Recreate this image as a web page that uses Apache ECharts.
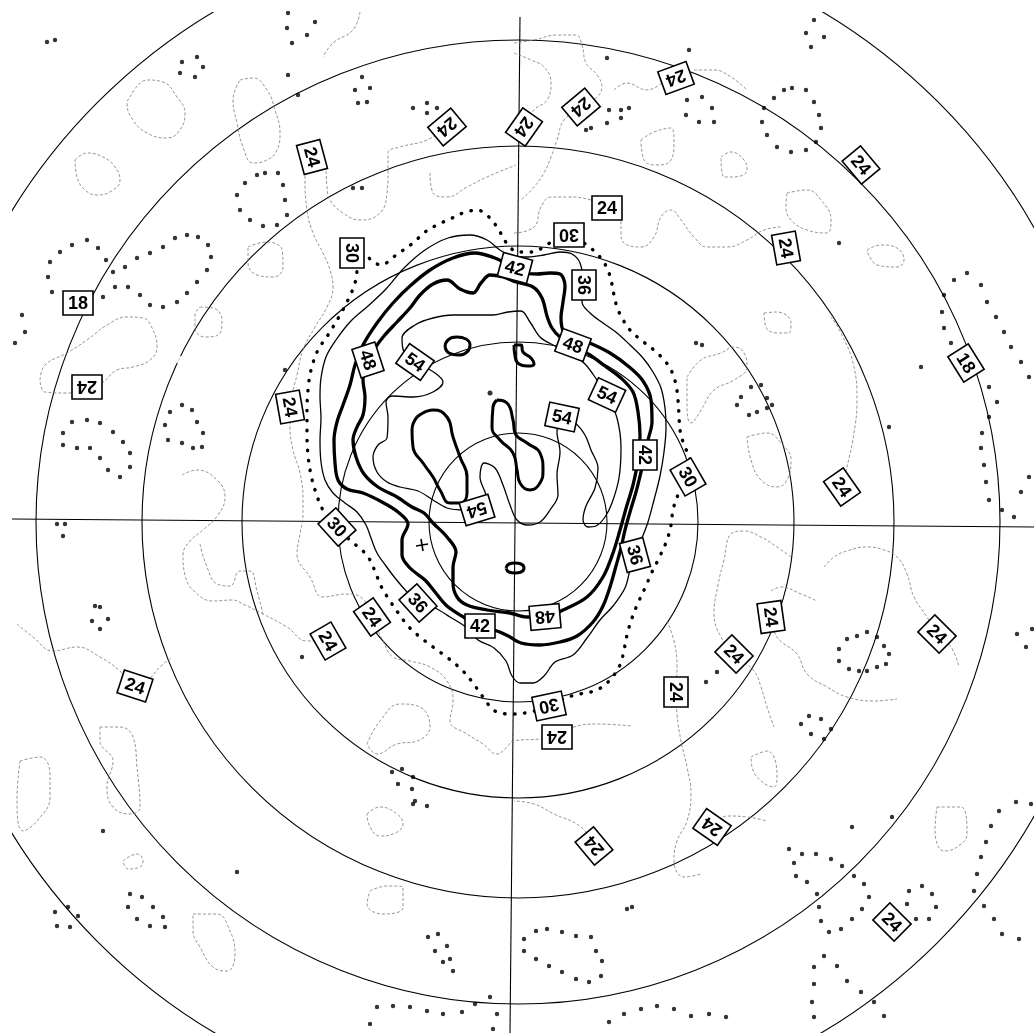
<!DOCTYPE html>
<html>
<head>
<meta charset="utf-8">
<script src="https://cdn.jsdelivr.net/npm/echarts@6/dist/echarts.min.js"></script>
<style>
html,body{margin:0;padding:0;background:#fff}
#chart{width:1034px;height:1033px}
</style>
</head>
<body>
<div id="chart"></div>
<script>
// Sheet grid units: x to the right, y downward, pole near the middle.
const sheetExtent = {xMin: 12, xMax: 1034, yMin: 12, yMax: 1033};
const pole = [518, 522];
const ringRadii = [89, 180, 276, 376, 482, 594];
const meridianLines = [
  [[12, 519], [1034, 527]],
  [[520, 17], [510, 1033]]
];

// Contour polylines (grid units), one array per level.
const contour30 = [[352,253],[362,252],[373,262],[382,265],[392,258],[402,251],[413,243],[425,232],[437,225],[450,219],[463,213],[477,210],[490,218],[500,232],[508,245],[518,252],[533,252],[548,244],[569,235],[588,246],[600,257],[607,268],[611,280],[614,295],[617,307],[622,318],[630,330],[641,340],[654,350],[665,361],[672,372],[676,385],[678,400],[679,415],[680,430],[684,445],[690,460],[688,477],[678,495],[673,510],[671,525],[667,540],[660,556],[652,572],[645,588],[638,603],[632,618],[627,635],[624,650],[620,665],[610,680],[597,690],[580,694],[565,698],[549,706],[530,712],[513,714],[495,711],[483,697],[473,683],[462,670],[448,658],[433,647],[420,637],[408,626],[399,614],[390,601],[382,588],[376,574],[370,560],[362,550],[352,542],[337,527],[323,510],[316,493],[311,475],[308,455],[307,433],[307,410],[308,390],[311,370],[318,350],[328,335],[340,315],[348,300],[355,283],[357,268],[352,253]];

const contour36 = [[584,285],[582,302],[590,313],[603,323],[617,333],[630,345],[643,358],[653,372],[661,388],[665,408],[666,428],[664,452],[660,476],[654,500],[648,522],[642,538],[635,555],[630,570],[625,588],[613,606],[600,620],[587,638],[573,655],[555,662],[544,676],[533,683],[520,683],[512,676],[506,661],[494,648],[478,640],[467,628],[450,617],[435,608],[418,603],[407,592],[395,578],[386,566],[377,553],[371,538],[366,525],[357,512],[345,503],[333,493],[325,480],[321,462],[320,440],[321,418],[320,397],[321,378],[326,357],[336,340],[350,322],[368,306],[386,289],[404,268],[425,250],[448,238],[470,235],[487,240],[500,250],[512,256],[528,257],[544,255],[560,252],[572,254],[580,263],[584,285]];

const contour42 = [[515,268],[523,273],[537,274],[550,273],[560,274],[565,286],[563,302],[561,318],[564,332],[576,338],[592,344],[610,353],[628,366],[643,381],[651,400],[652,422],[648,440],[645,455],[641,472],[636,492],[630,512],[625,530],[621,548],[616,566],[610,587],[603,606],[593,622],[577,636],[560,642],[540,645],[521,643],[510,637],[497,631],[480,627],[465,618],[447,606],[435,592],[425,580],[410,568],[402,555],[402,540],[408,524],[398,512],[382,502],[363,493],[347,489],[338,480],[335,463],[334,440],[337,422],[343,405],[350,385],[355,365],[363,345],[377,323],[393,303],[410,286],[430,270],[453,258],[475,253],[495,258],[507,264],[515,268]];

const contour48 = [[368,360],[375,348],[384,336],[397,322],[410,308],[420,295],[433,284],[447,280],[460,289],[473,293],[481,283],[490,275],[503,277],[516,282],[533,287],[542,298],[547,316],[552,328],[560,337],[573,345],[590,355],[605,366],[621,378],[633,392],[638,412],[640,435],[638,460],[633,485],[627,505],[620,530],[613,553],[603,577],[587,597],[563,610],[545,617],[527,617],[510,613],[487,610],[467,605],[457,597],[453,583],[453,567],[456,552],[447,537],[433,523],[424,513],[412,507],[397,497],[378,487],[364,474],[356,457],[353,440],[357,427],[363,415],[365,397],[363,380],[368,360]];

const contour54 = [[415,362],[404,352],[402,338],[415,325],[433,318],[453,315],[473,315],[493,315],[508,312],[521,311],[530,322],[540,337],[553,345],[570,352],[585,364],[597,380],[607,395],[617,418],[621,448],[619,478],[612,503],[605,517],[596,526],[588,527],[583,520],[586,506],[595,488],[598,468],[591,450],[585,435],[575,423],[562,417],[557,432],[560,452],[557,475],[558,495],[550,510],[540,522],[528,525],[517,520],[510,505],[503,485],[495,468],[484,463],[480,477],[486,495],[487,507],[477,511],[461,510],[447,508],[433,500],[418,491],[400,487],[387,482],[377,472],[373,457],[378,445],[387,438],[388,417],[386,402],[392,396],[413,397],[433,392],[443,382],[435,373],[415,362]];

const contour60 = [
  [[445,347],[448,340],[457,337],[466,339],[470,345],[467,352],[458,355],[449,353],[445,347]],
  [[514,345],[515,356],[519,364],[527,366],[534,364],[531,358],[523,352],[521,345],[514,345]],
  [[417,417],[433,410],[447,417],[453,437],[460,457],[467,477],[467,493],[460,503],[450,503],[440,490],[433,477],[423,463],[413,447],[412,430],[417,417]],
  [[497,400],[507,403],[513,420],[515,433],[527,443],[540,453],[543,470],[540,483],[530,490],[520,483],[517,470],[513,453],[500,440],[492,427],[493,407],[497,400]],
  [[506,568],[509,564],[515,563],[521,564],[524,568],[521,572],[515,573],[509,572],[506,568]]
];

const contour24 = [
  [[130,97],[147,80],[163,82],[177,97],[185,113],[180,130],[167,138],[147,133],[133,120],[127,103],[130,97]],
  [[75,160],[87,153],[103,157],[115,167],[120,180],[113,190],[97,195],[85,190],[77,177],[75,160]],
  [[240,80],[253,78],[267,90],[275,110],[280,133],[277,150],[267,160],[253,163],[243,147],[237,123],[233,100],[240,80]],
  [[360,12],[353,30],[333,43],[323,57]],
  [[312,157],[305,177],[307,210],[313,233],[323,253],[330,270],[333,287],[327,307],[315,327],[303,350],[297,375],[292,395],[290,407],[290,427],[293,450],[300,473],[303,500],[303,514],[300,534],[297,554],[310,577],[323,597],[347,594],[363,599],[372,617],[383,641],[393,657],[410,661],[430,667],[447,681],[453,701],[450,721],[467,734],[483,744],[497,754],[507,747],[513,741],[541,739],[557,737],[574,727],[597,724],[631,726]],
  [[312,157],[325,160],[327,187],[330,200],[343,213],[360,220],[380,213],[387,193],[388,173],[388,153],[400,147],[427,140],[447,127]],
  [[430,173],[433,193],[447,197],[467,187],[487,177],[516,165]],
  [[248,247],[267,242],[282,250],[283,267],[273,277],[257,275],[248,263],[248,247]],
  [[200,307],[213,308],[222,320],[220,333],[205,337],[195,328],[195,315],[200,307]],
  [[40,380],[45,365],[67,353],[87,340],[107,325],[127,317],[143,318],[153,330],[157,347],[150,360],[133,367],[117,370],[103,382],[87,390],[65,393],[45,392],[40,380]],
  [[182,475],[197,470],[217,480],[225,497],[218,515],[203,530],[190,541],[183,555],[185,575],[195,592],[213,601],[232,600],[245,605],[263,614],[287,627],[307,641],[328,641],[345,648]],
  [[200,544],[207,567],[217,584],[230,586],[240,571],[250,571],[257,591],[263,614]],
  [[17,624],[33,637],[53,651],[77,647],[100,657],[120,671],[135,686],[147,681],[160,667],[172,657]],
  [[100,727],[120,727],[133,737],[137,767],[140,807],[130,814],[113,807],[107,787],[113,761],[100,741],[100,727]],
  [[20,761],[40,757],[50,774],[50,797],[37,821],[23,831],[17,800],[20,761]],
  [[367,744],[380,721],[400,704],[420,707],[430,727],[417,741],[397,744],[377,754],[367,744]],
  [[367,814],[380,807],[397,814],[403,824],[393,834],[380,836],[370,827],[367,814]],
  [[123,861],[137,854],[143,861],[140,867],[128,869],[123,861]],
  [[193,914],[217,914],[230,931],[235,954],[227,971],[213,967],[200,947],[193,931],[193,914]],
  [[370,891],[387,886],[403,887],[403,907],[383,914],[367,904],[370,891]],
  [[667,621],[674,641],[677,667],[676,692],[677,714],[681,741],[687,767],[691,794],[687,821],[677,841],[674,861],[684,877],[701,874]],
  [[791,557],[777,547],[761,537],[744,531],[731,534],[724,560],[718,585],[714,614],[721,637],[734,654],[754,671],[761,687],[767,707],[774,727]],
  [[771,591],[781,587],[801,594],[817,601]],
  [[771,617],[777,637],[797,654],[807,674],[827,687],[847,697],[874,701],[897,699]],
  [[824,567],[834,557],[847,551],[867,547],[881,549],[897,557],[907,574],[914,597],[927,617],[937,634],[951,647],[959,667]],
  [[751,757],[767,751],[777,774],[774,787],[761,781],[752,767],[751,757]],
  [[937,807],[961,807],[967,834],[957,847],[944,851],[935,830],[937,807]],
  [[712,827],[727,816],[747,817],[767,821]],
  [[594,846],[581,827],[554,814],[534,804],[514,801]],
  [[514,43],[534,40],[557,35],[576,35],[582,45],[586,63],[597,75],[602,87],[594,100],[581,107]],
  [[514,53],[531,60],[544,67],[551,83],[547,100],[534,110],[524,127]],
  [[581,107],[564,120],[557,140],[551,157],[544,173],[534,187],[521,200]],
  [[641,140],[654,132],[671,128],[674,143],[671,160],[657,165],[644,160],[641,140]],
  [[721,157],[731,152],[744,160],[747,170],[734,177],[724,177],[721,157]],
  [[614,90],[627,83],[647,90],[662,83]],
  [[694,70],[714,70],[731,77],[747,90]],
  [[787,193],[807,190],[821,200],[831,220],[827,233],[807,230],[791,220],[786,207],[787,193]],
  [[867,250],[881,245],[897,248],[904,260],[897,267],[877,265],[867,250]],
  [[764,313],[777,312],[791,323],[789,333],[777,333],[766,327],[764,313]],
  [[514,233],[534,227],[541,207],[551,197],[567,197],[591,200],[607,208],[621,213],[621,233],[624,243],[641,247],[654,237],[661,217],[671,210],[681,220],[694,237],[707,247],[727,247],[747,240],[764,230],[781,227]],
  [[687,377],[701,360],[721,353],[734,347],[744,353],[747,367],[734,380],[714,390],[701,410],[691,423],[687,407],[687,377]],
  [[747,437],[767,433],[781,443],[791,460],[787,480],[777,487],[761,480],[751,460],[747,437]],
  [[842,487],[847,467],[854,433],[857,400],[854,367],[841,333],[831,317]]
];

// Dotted 18-level rings, one dot per sounding.
const dots18 = [
  [47,42],[55,40],[182,62],[197,57],[203,67],[195,77],[180,73],[288,13],[315,22],[287,28],[307,35],[292,43],[288,75],[298,95],
  [362,77],[355,90],[370,88],[358,103],[367,102],[413,108],[427,103],[437,108],[427,113],
  [257,175],[265,173],[278,173],[283,185],[285,200],[287,215],[277,225],[263,226],[250,220],[240,210],[237,195],[245,183],[353,188],[362,188],
  [48,277],[50,262],[60,252],[72,245],[87,240],[98,248],[106,260],[113,272],[125,267],[137,258],[150,253],[163,247],[175,238],[187,235],[198,237],[208,245],[211,257],[207,270],[197,282],[187,293],[177,302],[163,307],[150,305],[140,295],[128,287],[115,287],[103,297],[52,292],
  [22,315],[25,332],[15,343],
  [170,412],[182,405],[192,410],[197,422],[203,433],[202,447],[193,448],[182,443],[168,440],[165,425],
  [72,422],[87,420],[100,423],[113,432],[123,442],[130,453],[130,467],[120,477],[108,470],[100,458],[90,448],[77,448],[63,445],[63,433],[285,370],
  [814,20],[806,33],[824,37],[811,47],[689,50],[607,58],[629,108],[621,110],[609,110],[607,123],[621,118],[586,130],[591,128],
  [687,100],[702,97],[712,108],[714,122],[699,122],[686,115],
  [764,108],[774,98],[784,90],[792,88],[806,90],[814,102],[819,115],[821,128],[816,142],[806,150],[791,152],[777,147],[767,135],[762,122],
  [696,343],[702,345],[839,243],
  [741,397],[751,387],[761,385],[767,398],[772,405],[767,408],[757,412],[749,415],[737,405],
  [954,280],[967,273],[981,285],[987,302],[996,317],[1004,332],[1011,347],[1021,362],[1029,377],[944,295],[942,312],[944,328],[951,343],
  [989,387],[997,402],[989,417],[982,433],[981,448],[984,465],[986,482],[989,500],[1002,510],[1014,517],[1029,477],[1021,492],[889,427],[921,367],
  [57,524],[65,524],[63,536],[95,606],[100,607],[92,621],[108,619],[100,629],[302,657],
  [392,772],[402,769],[413,777],[398,784],[412,789],[415,801],[427,806],[413,804],[103,831],[237,872],
  [130,894],[142,897],[128,907],[153,907],[137,919],[163,917],[150,926],[165,927],
  [55,912],[68,907],[78,916],[57,926],[70,927],
  [428,937],[438,934],[435,951],[447,946],[443,962],[450,959],[453,971],
  [377,1007],[393,1006],[410,1007],[427,1011],[443,1014],[462,1012],[475,1004],[490,997],[497,1014],[493,1029],[370,1024],
  [706,682],[717,672],[809,716],[821,719],[801,724],[811,734],[824,739],[831,729],
  [839,649],[847,639],[857,636],[867,632],[877,637],[884,646],[889,654],[886,664],[877,667],[867,671],[859,671],[849,669],[839,661],
  [1017,634],[1032,629],[1026,647],[852,827],[892,817],[632,907],[627,909],
  [789,849],[802,854],[816,854],[831,859],[842,866],[854,876],[864,884],[869,897],[862,909],[852,919],[841,929],[829,932],[821,921],[819,907],[817,894],[807,882],[796,876],[794,863],
  [909,891],[922,886],[932,894],[936,907],[929,919],[916,919],[907,904],
  [1016,802],[999,811],[991,826],[986,842],[981,857],[977,874],[974,891],[984,906],[994,919],[1002,934],[1019,939],[1031,804],
  [824,956],[837,966],[847,981],[861,992],[874,1002],[884,1016],[814,967],[814,984],[812,1002],[814,1017],
  [524,939],[536,931],[547,929],[562,932],[576,936],[591,937],[596,951],[602,961],[601,976],[589,982],[576,979],[562,972],[549,966],[536,959],[524,951],
  [609,1022],[624,1014],[641,1009],[657,1006],[674,1009],[691,1016],[709,1014],[726,1017]
];

const stationDots = [[490,393]];
const smallRings = [[180,360],[462,77],[587,27],[200,667],[260,679],[332,701],[834,611],[591,764]];
const crossMarks = [[422,545]];

// Contour label anchors: [x, y, level]
const labelPoints = [
  [447,127,24],[524,127,24],[581,107,24],[676,78,24],[861,165,24],[607,208,24],[569,235,30],[786,248,24],
  [966,363,18],[842,487,24],[688,477,30],[645,455,42],[584,285,36],[573,345,48],[607,395,54],[562,417,54],
  [515,268,42],[352,253,30],[312,157,24],[78,303,18],[87,387,24],[368,360,48],[415,362,54],[290,407,24],
  [477,510,54],[337,527,30],[418,603,36],[372,617,24],[328,641,24],[480,626,42],[545,617,48],[635,555,36],
  [135,686,24],[549,706,30],[557,737,24],[676,692,24],[734,654,24],[771,617,24],[937,634,24],[712,827,24],
  [594,846,24],[892,922,24]
];
// Clockwise tilt of each label box, degrees, same order.
const labelTilt = [
  140,125,140,160,50,0,180,80,
  58,55,60,90,90,20,25,12,
  15,90,75,0,180,72,35,80,
  163,48,48,55,60,0,175,75,
  18,168,180,90,45,82,45,215,
  230,45
];

const levelStyle = {
  30: {color:'#000', width:3.4, type:[0.5, 9.5], cap:'round'},
  36: {color:'#000', width:1.3, type:'solid'},
  42: {color:'#000', width:3.3, type:'solid'},
  48: {color:'#000', width:3.3, type:'solid'},
  54: {color:'#000', width:1.3, type:'solid'},
  60: {color:'#000', width:3.0, type:'solid'},
  24: {color:'#7a7a7a', width:0.8, type:[3, 2]}
};

function contourSeries(points, level, smooth) {
  const st = levelStyle[level];
  return {
    type: 'line',
    data: points,
    showSymbol: false,
    symbol: 'none',
    smooth: smooth,
    silent: true,
    z: level === 24 ? 2 : 4,
    lineStyle: {color: st.color, width: st.width, type: st.type, cap: st.cap || 'butt', join: 'round'}
  };
}

const series = [];

// latitude rings, trimmed to the sheet
series.push({
  type: 'custom',
  data: ringRadii.map(r => [pole[0], pole[1], r]),
  silent: true,
  clip: true,
  z: 1,
  renderItem: function (params, api) {
    const c = api.coord([api.value(0), api.value(1)]);
    const r = api.size([api.value(2), 0])[0];
    return {type: 'circle', shape: {cx: c[0], cy: c[1], r: r}, style: {fill: 'none', stroke: '#000', lineWidth: 1.1}};
  }
});

// meridians
meridianLines.forEach(seg => {
  series.push({type: 'line', data: seg, showSymbol: false, symbol: 'none', silent: true, z: 1,
    lineStyle: {color: '#000', width: 1.1}});
});

contour24.forEach(p => series.push(contourSeries(p, 24, 0.45)));
series.push(contourSeries(contour30, 30, 0.35));
series.push(contourSeries(contour36, 36, 0.35));
series.push(contourSeries(contour42, 42, 0.35));
series.push(contourSeries(contour48, 48, 0.35));
series.push(contourSeries(contour54, 54, 0.35));
contour60.forEach(p => series.push(contourSeries(p, 60, 0.5)));

series.push({
  type: 'scatter', data: dots18, symbol: 'circle', symbolSize: 4.4, silent: true, z: 3,
  itemStyle: {color: '#000'}
});
series.push({
  type: 'scatter', data: stationDots, symbol: 'circle', symbolSize: 5, silent: true, z: 3,
  itemStyle: {color: '#000'}
});
series.push({
  type: 'scatter', data: smallRings, symbol: 'emptyCircle', symbolSize: 6, silent: true, z: 3,
  itemStyle: {color: '#fff', borderColor: '#444', borderWidth: 0.8}
});
series.push({
  type: 'custom', data: crossMarks, silent: true, z: 5,
  renderItem: function (params, api) {
    const c = api.coord([api.value(0), api.value(1)]);
    const h = 6;
    return {type: 'group', children: [
      {type: 'line', shape: {x1: c[0] - h, y1: c[1] + 1, x2: c[0] + h, y2: c[1] - 1}, style: {stroke: '#000', lineWidth: 1.6}},
      {type: 'line', shape: {x1: c[0] - 1, y1: c[1] - h, x2: c[0] + 1, y2: c[1] + h}, style: {stroke: '#000', lineWidth: 1.6}}
    ]};
  }
});

// contour value boxes, drawn on top of the lines
series.push({
  type: 'custom',
  silent: true,
  clip: false,
  z: 20,
  data: labelPoints.map((p, i) => [p[0], p[1], p[2], labelTilt[i]]),
  renderItem: function (params, api) {
    const c = api.coord([api.value(0), api.value(1)]);
    const tilt = api.value(3) * Math.PI / 180;
    return {
      type: 'group',
      x: c[0], y: c[1],
      rotation: -tilt,
      children: [
        {type: 'rect', shape: {x: -15, y: -12, width: 30, height: 24},
          style: {fill: '#fff', stroke: '#000', lineWidth: 1.6}},
        {type: 'text', style: {text: String(api.value(2)), x: 0, y: 1,
          align: 'center', verticalAlign: 'middle',
          font: 'bold 18px "Liberation Sans", Arial, sans-serif', fill: '#000'}}
      ]
    };
  }
});

const chart = echarts.init(document.getElementById('chart'), null, {renderer: 'canvas'});
chart.setOption({
  animation: false,
  backgroundColor: '#fff',
  grid: {left: sheetExtent.xMin, right: 1034 - sheetExtent.xMax, top: sheetExtent.yMin, bottom: 1033 - sheetExtent.yMax},
  xAxis: {type: 'value', min: sheetExtent.xMin, max: sheetExtent.xMax, show: false},
  yAxis: {type: 'value', min: sheetExtent.yMin, max: sheetExtent.yMax, inverse: true, show: false},
  series: series
});
</script>
</body>
</html>
